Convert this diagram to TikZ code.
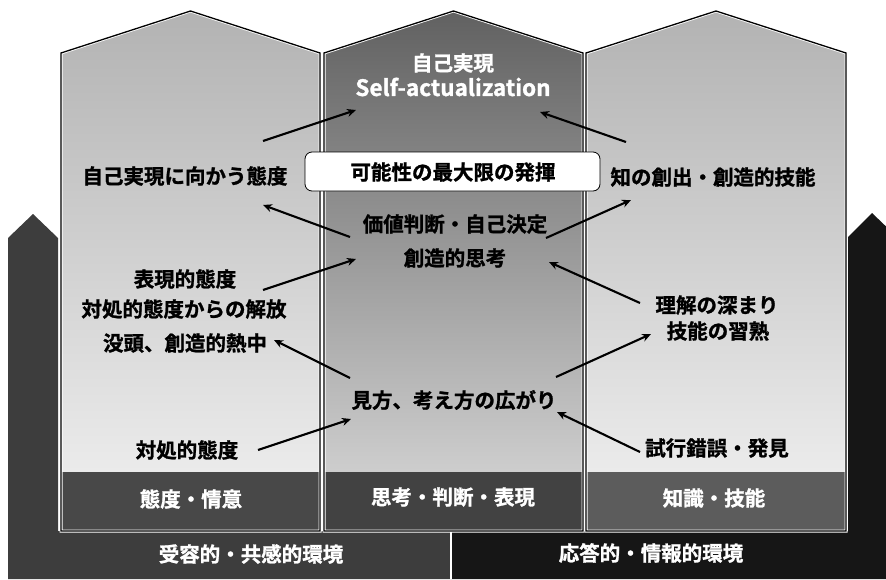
\documentclass[tikz,border=0pt]{standalone}
\usepackage{fontspec}
\setmainfont{Noto Sans CJK JP}[BoldFont={Noto Sans CJK JP Bold}, BoldFeatures={FakeBold=1.2}]
\usetikzlibrary{arrows.meta}
\definecolor{envL}{HTML}{3D3D3D}
\definecolor{envR}{HTML}{161616}
\definecolor{bandL}{HTML}{484848}
\definecolor{bandM}{HTML}{424242}
\definecolor{bandR}{HTML}{5C5C5C}
\definecolor{sideTop}{gray}{0.70}
\definecolor{sideBot}{gray}{0.95}
\definecolor{midTop}{gray}{0.38}
\definecolor{midBot}{gray}{0.86}
\begin{document}
\begin{tikzpicture}[x=1pt,y=-1pt,
  lbl/.style={font=\fontsize{20.5}{24}\selectfont\bfseries, inner sep=0pt, text=black},
  wlbl/.style={lbl, text=white},
  arr/.style={draw=black, line width=2.1pt, -{Stealth[length=9pt,width=8pt]}},
  rim/.style={draw=white, line width=3pt},
  edge/.style={draw=black, line width=1.3pt}]
\useasboundingbox (0,0) rectangle (886,579);
\fill[white] (0,0) rectangle (886,579);

% environment shapes
\fill[envL] (8,579) -- (8,238) -- (33,214) -- (58,238) -- (58,531) -- (451,531) -- (451,579) -- cycle;
\fill[envR] (451,579) -- (451,531) -- (848,531) -- (848,237) -- (872,213) -- (897,237) -- (897,579) -- cycle;
\draw[white, line width=1.5pt] (451,531) -- (451,579);

% columns
\shade[top color=sideTop, bottom color=sideBot] (61,531) -- (61,53) -- (190.5,11) -- (320,53) -- (320,531) -- cycle;
\shade[top color=midTop, bottom color=midBot] (324,531) -- (324,53) -- (453.5,11) -- (583,53) -- (583,531) -- cycle;
\shade[top color=sideTop, bottom color=sideBot] (586,531) -- (586,53) -- (716,11) -- (846,53) -- (846,531) -- cycle;
\fill[bandL] (61,472) rectangle (320,531);
\fill[bandM] (324,472) rectangle (583,531);
\fill[bandR] (586,472) rectangle (846,531);
\foreach \a/\m/\b in {61/190.5/320, 324/453.5/583, 586/716/846}{
  \draw[rim] (\a,531) -- (\a,53) -- (\m,11) -- (\b,53) -- (\b,531) -- cycle;
  \draw[edge] (\a,531) -- (\a,53) -- (\m,11) -- (\b,53) -- (\b,531) -- cycle;
}

% middle box
\node[draw=black, line width=0.8pt, fill=white, rounded corners=7pt, minimum width=295pt, minimum height=39pt, inner sep=0pt] (box) at (452.5,171.5) {};
\node[lbl] (boxt) at (453,172) {可能性の最大限の発揮};

% texts
\node[wlbl] (top1) at (453,63) {自己実現};
\node[wlbl, font=\fontsize{22.5}{26}\selectfont\bfseries] (top2) at (453,87) {Self-actualization};
\node[lbl] (l1) at (185,176) {自己実現に向かう態度};
\node[lbl] (r1) at (713,177) {知の創出・創造的技能};
\node[lbl] (m1) at (455,224) {価値判断・自己決定};
\node[lbl] (m2) at (455,258) {創造的思考};
\node[lbl] (l2) at (185,279) {表現的態度};
\node[lbl] (l3) at (184,309) {対処的態度からの解放};
\node[lbl] (l4) at (185,343) {没頭、創造的熱中};
\node[lbl] (r2) at (717,305) {理解の深まり};
\node[lbl] (r3) at (718,331) {技能の習熟};
\node[lbl] (m3) at (454,400) {見方、考え方の広がり};
\node[lbl] (l5) at (187,450) {対処的態度};
\node[lbl] (r4) at (717,448) {試行錯誤・発見};
\node[wlbl] (bl) at (191,499) {態度・情意};
\node[wlbl] (bm) at (453,497) {思考・判断・表現};
\node[wlbl] (br) at (714,498) {知識・技能};
\node[wlbl] (el) at (251,554) {受容的・共感的環境};
\node[wlbl] (er) at (651,553) {応答的・情報的環境};

% arrow end points
\coordinate (a1s) at (263,141); \coordinate (a1e) at (356,110);
\coordinate (a2s) at (626,142); \coordinate (a2e) at (540,112);
\coordinate (a3s) at (350,237); \coordinate (a3e) at (263,205);
\coordinate (a4s) at (546,238); \coordinate (a4e) at (631,200);
\coordinate (a5s) at (263,290); \coordinate (a5e) at (356,259);
\coordinate (a6s) at (640,303); \coordinate (a6e) at (549,262);
\coordinate (a7s) at (350,378); \coordinate (a7e) at (274,340);
\coordinate (a8s) at (258,450); \coordinate (a8e) at (351,419);
\coordinate (a9s) at (556,377); \coordinate (a9e) at (651,334);
\coordinate (a10s) at (640,452); \coordinate (a10e) at (557,412);
\foreach \i in {1,...,10}{ \draw[arr] (a\i s) -- (a\i e); }
\end{tikzpicture}
\end{document}
